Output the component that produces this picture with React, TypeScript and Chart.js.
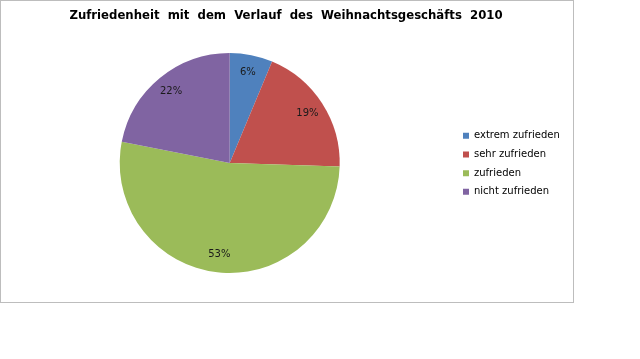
import React, { useEffect, useRef } from 'react';
import { Chart, registerables } from 'chart.js';

Chart.register(...registerables);

const categories = ['extrem zufrieden', 'sehr zufrieden', 'zufrieden', 'nicht zufrieden'];
const shares = [6.3, 19.2, 52.6, 21.9];
const colors = ['#4F81BD', '#C0504D', '#9BBB59', '#8064A2'];
const titleText = 'Zufriedenheit  mit  dem  Verlauf  des  Weihnachtsgeschäfts  2010';

const pctLabels = {
  id: 'pctLabels',
  afterDatasetsDraw(chart: any) {
    const { ctx } = chart;
    const meta = chart.getDatasetMeta(0);
    const data = chart.data.datasets[0].data as number[];
    const total = data.reduce((a: number, b: number) => a + b, 0);
    ctx.save();
    ctx.font = '10px "DejaVu Sans"';
    ctx.fillStyle = '#1a1a1a';
    ctx.textAlign = 'center';
    ctx.textBaseline = 'middle';
    meta.data.forEach((arc: any, i: number) => {
      const { x, y, startAngle, endAngle, outerRadius } = arc.getProps(
        ['x', 'y', 'startAngle', 'endAngle', 'outerRadius'],
        true
      );
      const mid = (startAngle + endAngle) / 2;
      const r = outerRadius * 0.84;
      const label = Math.round((data[i] / total) * 100) + '%';
      ctx.fillText(label, x + Math.cos(mid) * r, y + Math.sin(mid) * r);
    });
    ctx.restore();
  },
};

export default function App() {
  const ref = useRef<HTMLCanvasElement | null>(null);
  useEffect(() => {
    if (!ref.current) return;
    const chart = new Chart(ref.current, {
      type: 'pie',
      data: {
        labels: categories,
        datasets: [
          {
            data: shares,
            backgroundColor: colors,
            borderWidth: 0,
          },
        ],
      },
      options: {
        responsive: false,
        animation: false,
        layout: { padding: { left: 5.1, right: 73.1, top: 0, bottom: 86 } },
        plugins: {
          title: {
            display: true,
            text: titleText,
            color: '#000',
            font: { family: '"DejaVu Sans Condensed"', size: 13, weight: 'bold' },
            padding: { top: 7.9, bottom: 29.5 },
          },
          legend: {
            position: 'right',
            maxWidth: 112.6,
            title: {
              display: true,
              text: ' ',
              font: { size: 10 },
              padding: { top: 42.6, bottom: 0 },
            },
            labels: {
              boxWidth: 6,
              boxHeight: 6,
              padding: 8.7,
              color: '#000',
              font: { family: '"DejaVu Sans"', size: 10 },
            },
          },
          tooltip: { enabled: false },
        },
      },
      plugins: [pctLabels],
    } as any);
    return () => chart.destroy();
  }, []);
  return (
    <div style={{ position: 'absolute', left: 0, top: 0, width: 640, height: 359, background: '#fff' }}>
      <canvas ref={ref} width={640} height={359} style={{ position: 'absolute', left: 0, top: 0 }} />
      <div
        style={{
          position: 'absolute',
          left: 0,
          top: 0,
          width: 574,
          height: 303,
          boxSizing: 'border-box',
          border: '1px solid #bdbdbd',
          pointerEvents: 'none',
        }}
      />
    </div>
  );
}
